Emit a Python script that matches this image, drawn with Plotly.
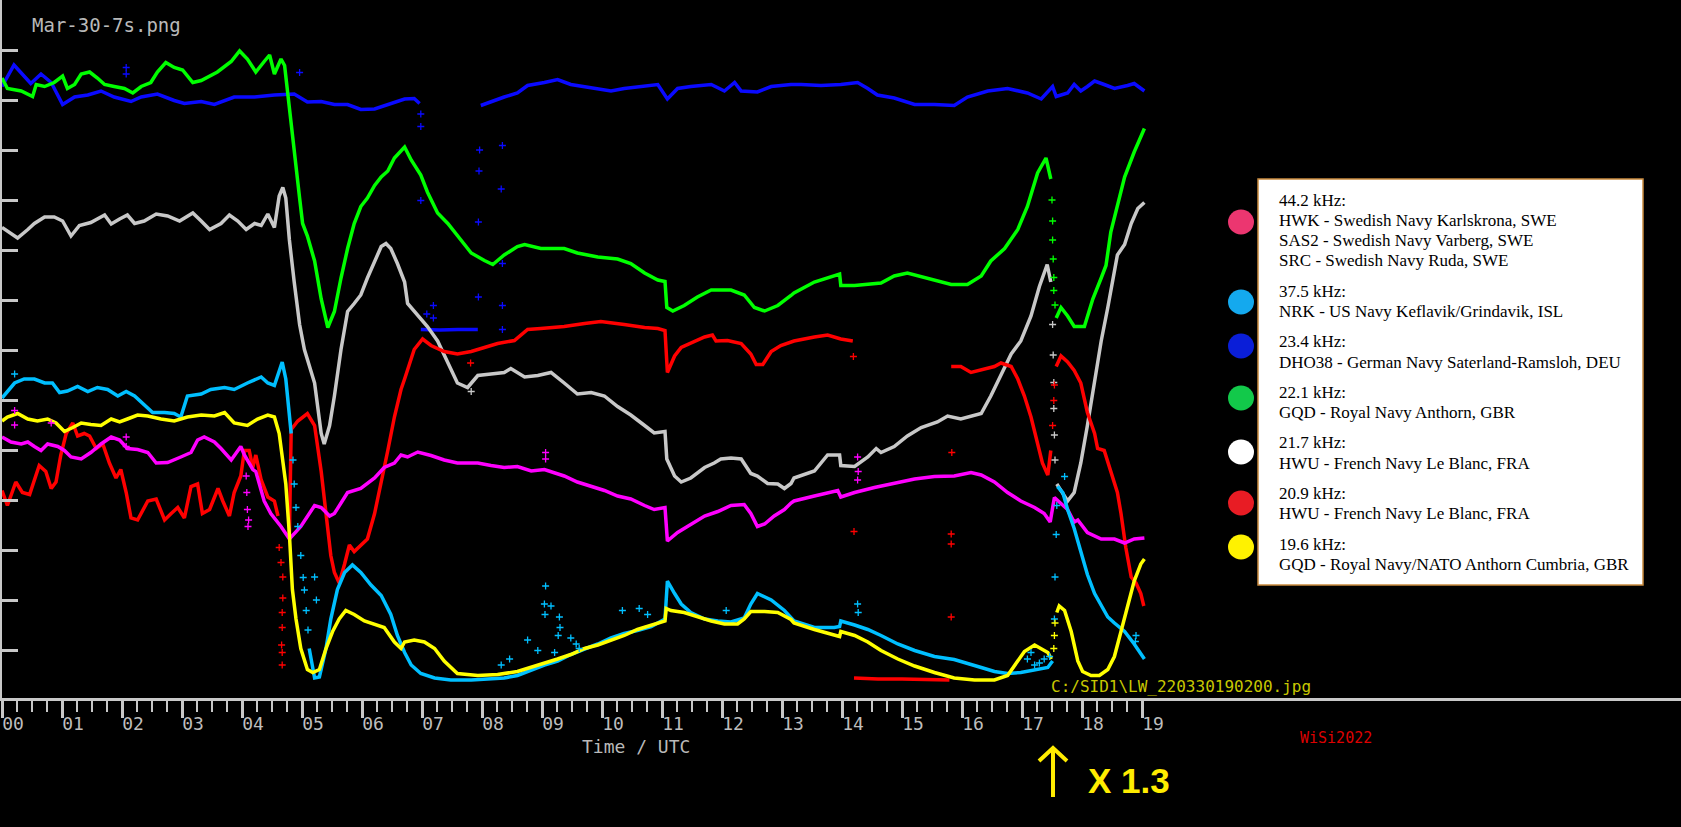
import plotly.graph_objects as go

# hours on the x axis, signal level in tick units (0..12) on the y axis
HOURS = list(range(20))
HOUR_LABELS = [f"{h:02d}" for h in HOURS]
QUARTERS = [h + q / 4 for h in range(19) for q in (1, 2, 3)]
LEVEL_TICKS = list(range(13))

# 23.4 kHz DHO38
BLUE = [(0.00, 11.27), (0.20, 11.70), (0.48, 11.33), (0.65, 11.52), (0.82, 11.35), (1.01, 10.91),
        (1.21, 11.06), (1.43, 11.10), (1.65, 11.18), (1.87, 11.06), (2.15, 10.97), (2.32, 11.06),
        (2.59, 11.12), (2.87, 10.99), (3.04, 10.93), (3.32, 10.97), (3.54, 10.91), (3.87, 11.06),
        (4.21, 11.06), (4.54, 11.10), (4.87, 11.12), (5.09, 10.96), (5.32, 10.97), (5.54, 10.91),
        (5.76, 10.91), (5.98, 10.81), (6.21, 10.82), (6.43, 10.91), (6.65, 10.99), (6.71, 11.02),
        (6.87, 11.03), (6.96, 10.93), None,
        (6.98, 6.41), (7.30, 6.40), (7.60, 6.41), (7.93, 6.41), None,
        (7.98, 10.89), (8.15, 10.97), (8.37, 11.06), (8.59, 11.14), (8.76, 11.29), (9.04, 11.35),
        (9.26, 11.41), (9.48, 11.31), (9.82, 11.24), (10.15, 11.18), (10.37, 11.23), (10.71, 11.27),
        (10.93, 11.31), (11.09, 11.02), (11.26, 11.23), (11.48, 11.27), (11.82, 11.31), (12.04, 11.18),
        (12.21, 11.35), (12.32, 11.18), (12.59, 11.16), (12.82, 11.27), (13.15, 11.31), (13.32, 11.31),
        (13.65, 11.29), (13.98, 11.31), (14.26, 11.35), (14.43, 11.23), (14.59, 11.10), (14.87, 11.04),
        (15.21, 10.91), (15.54, 10.91), (15.87, 10.89), (16.09, 11.06), (16.43, 11.18), (16.76, 11.23),
        (17.09, 11.14), (17.32, 11.02), (17.43, 11.18), (17.51, 11.27), (17.57, 11.07), (17.76, 11.14),
        (17.87, 11.31), (17.98, 11.18), (18.09, 11.27), (18.21, 11.38), (18.37, 11.31), (18.54, 11.23),
        (18.76, 11.29), (18.87, 11.33), (19.04, 11.18)]
BLUE_DOTS = [(2.07, 11.65), (2.07, 11.52), (6.98, 10.72), (6.98, 10.47), (6.98, 8.99), (7.08, 6.72),
             (7.19, 6.89), (7.19, 6.64), (7.94, 7.06), (7.94, 8.56), (7.95, 9.58), (7.96, 10.00),
             (8.34, 10.09), (8.32, 9.22), (8.34, 7.73), (8.34, 6.89), (8.34, 6.41), (4.96, 11.55)]

# 22.1 kHz GQD
GREEN = [(0.00, 11.44), (0.09, 11.23), (0.32, 11.18), (0.51, 11.07), (0.57, 11.31), (0.71, 11.27),
         (0.87, 11.35), (1.01, 11.48), (1.09, 11.23), (1.21, 11.31), (1.32, 11.52), (1.46, 11.56),
         (1.59, 11.44), (1.71, 11.31), (1.87, 11.27), (2.04, 11.23), (2.18, 11.14), (2.32, 11.27),
         (2.48, 11.35), (2.59, 11.56), (2.73, 11.75), (2.87, 11.65), (3.01, 11.60), (3.18, 11.35),
         (3.32, 11.39), (3.59, 11.56), (3.82, 11.77), (3.96, 11.98), (4.09, 11.82), (4.23, 11.56),
         (4.37, 11.77), (4.46, 11.90), (4.54, 11.52), (4.65, 11.82), (4.71, 11.69), (4.76, 11.14),
         (4.82, 10.47), (4.87, 9.88), (4.96, 9.04), (5.01, 8.53), (5.09, 8.28), (5.21, 7.78),
         (5.32, 7.02), (5.43, 6.45), (5.54, 6.77), (5.65, 7.44), (5.76, 8.03), (5.87, 8.53),
         (5.98, 8.87), (6.09, 9.04), (6.21, 9.29), (6.32, 9.46), (6.43, 9.58), (6.54, 9.84),
         (6.71, 10.06), (6.82, 9.80), (6.98, 9.50), (7.09, 9.16), (7.26, 8.74), (7.43, 8.53),
         (7.59, 8.28), (7.82, 7.94), (8.04, 7.79), (8.18, 7.71), (8.37, 7.90), (8.59, 8.07),
         (8.71, 8.11), (8.98, 8.03), (9.37, 8.03), (9.59, 7.94), (9.93, 7.86), (10.26, 7.82),
         (10.48, 7.73), (10.71, 7.54), (10.93, 7.40), (11.05, 7.37), (11.08, 6.85), (11.18, 6.78),
         (11.37, 6.89), (11.59, 7.06), (11.82, 7.20), (12.15, 7.20), (12.37, 7.10), (12.54, 6.85),
         (12.71, 6.78), (12.93, 6.89), (13.15, 7.09), (13.20, 7.14), (13.54, 7.36), (13.87, 7.48),
         (13.96, 7.52), (13.98, 7.29), (14.21, 7.29), (14.65, 7.34), (14.87, 7.48), (15.09, 7.54),
         (15.43, 7.44), (15.82, 7.31), (16.09, 7.31), (16.32, 7.48), (16.48, 7.78), (16.71, 8.03),
         (16.93, 8.41), (17.09, 8.87), (17.26, 9.54), (17.40, 9.84), (17.48, 9.42), None,
         (17.57, 6.64), (17.65, 6.85), (17.76, 6.68), (17.87, 6.47), (18.04, 6.47), (18.18, 7.02),
         (18.32, 7.44), (18.40, 7.69), (18.48, 8.36), (18.59, 8.87), (18.71, 9.46), (18.87, 9.96),
         (19.04, 10.43)]
GREEN_DOTS = [(17.50, 9.00), (17.51, 8.58), (17.51, 8.20), (17.52, 7.82), (17.53, 7.45), (17.53, 7.19),
              (17.55, 6.90)]

# 21.7 kHz HWU
GREY = [(0.00, 8.45), (0.26, 8.24), (0.43, 8.41), (0.54, 8.53), (0.71, 8.66), (0.87, 8.66),
        (1.01, 8.58), (1.15, 8.28), (1.29, 8.49), (1.48, 8.55), (1.71, 8.70), (1.82, 8.52),
        (1.96, 8.62), (2.09, 8.70), (2.21, 8.53), (2.37, 8.58), (2.57, 8.72), (2.76, 8.68),
        (2.96, 8.58), (3.18, 8.74), (3.32, 8.58), (3.46, 8.41), (3.65, 8.53), (3.79, 8.70),
        (3.93, 8.58), (4.07, 8.41), (4.21, 8.53), (4.32, 8.49), (4.43, 8.72), (4.54, 8.45),
        (4.62, 9.08), (4.68, 9.25), (4.73, 9.04), (4.79, 8.20), (4.87, 7.36), (4.96, 6.51),
        (5.04, 6.01), (5.21, 5.34), (5.32, 4.33), (5.37, 4.12), (5.46, 4.49), (5.54, 5.08),
        (5.65, 6.01), (5.76, 6.77), (5.87, 6.93), (5.98, 7.10), (6.09, 7.44), (6.21, 7.78),
        (6.32, 8.07), (6.40, 8.13), (6.48, 8.03), (6.59, 7.73), (6.71, 7.36), (6.76, 6.93),
        (6.93, 6.68), (7.09, 6.47), (7.26, 6.18), (7.43, 5.76), (7.59, 5.34), (7.76, 5.25),
        (7.93, 5.49), (8.15, 5.52), (8.37, 5.55), (8.48, 5.63), (8.71, 5.46), (8.93, 5.49),
        (9.15, 5.55), (9.37, 5.34), (9.59, 5.12), (9.82, 5.15), (10.04, 5.08), (10.26, 4.87),
        (10.48, 4.70), (10.71, 4.49), (10.87, 4.34), (11.05, 4.37), (11.08, 3.82), (11.21, 3.48),
        (11.32, 3.36), (11.48, 3.44), (11.71, 3.65), (11.87, 3.74), (11.98, 3.82), (12.15, 3.84),
        (12.32, 3.82), (12.48, 3.53), (12.59, 3.48), (12.76, 3.33), (12.93, 3.32), (13.04, 3.23),
        (13.15, 3.33), (13.20, 3.44), (13.54, 3.58), (13.76, 3.90), (13.96, 3.90), (13.98, 3.69),
        (14.21, 3.67), (14.43, 3.86), (14.57, 4.03), (14.65, 3.95), (14.87, 4.07), (15.09, 4.28),
        (15.32, 4.45), (15.59, 4.56), (15.76, 4.68), (15.98, 4.62), (16.32, 4.73), (16.48, 5.08),
        (16.65, 5.50), (16.82, 5.92), (16.98, 6.18), (17.15, 6.68), (17.29, 7.27), (17.42, 7.71),
        (17.48, 7.36), None,
        (17.58, 3.32), (17.76, 2.98), (17.87, 3.15), (17.98, 3.74), (18.09, 4.49), (18.21, 5.42),
        (18.32, 6.18), (18.43, 6.85), (18.54, 7.61), (18.59, 7.90), (18.71, 8.11), (18.82, 8.53),
        (18.93, 8.83), (19.04, 8.95)]
GREY_DOTS = [(7.82, 5.17), (17.51, 6.51), (17.52, 5.90), (17.53, 5.35), (17.53, 4.83), (17.54, 4.30),
             (17.55, 3.80)]

# 20.9 kHz HWU
RED = [(0.00, 3.19), (0.09, 2.89), (0.23, 3.36), (0.34, 3.15), (0.46, 3.11), (0.54, 3.40),
       (0.62, 3.69), (0.73, 3.57), (0.82, 3.23), (0.90, 3.36), (0.98, 3.90), (1.07, 4.33),
       (1.18, 4.54), (1.26, 4.28), (1.37, 4.33), (1.46, 4.28), (1.57, 4.03), (1.68, 4.12),
       (1.79, 3.74), (1.90, 3.44), (1.98, 3.61), (2.07, 3.15), (2.15, 2.64), (2.26, 2.60),
       (2.43, 2.98), (2.57, 3.02), (2.71, 2.60), (2.82, 2.73), (2.93, 2.85), (3.04, 2.64),
       (3.15, 3.27), (3.26, 3.32), (3.34, 2.73), (3.46, 2.81), (3.60, 3.23), (3.68, 2.98),
       (3.79, 2.68), (3.87, 3.15), (3.98, 3.48), (4.04, 3.99), (4.12, 3.99), (4.18, 3.65),
       (4.23, 3.90), (4.32, 3.40), (4.43, 3.06), (4.54, 2.98), (4.60, 2.68), None,
       (4.79, 2.30), (4.80, 3.40), (4.82, 4.41), (4.93, 4.58), (5.09, 4.73), (5.21, 4.49),
       (5.32, 3.57), (5.40, 2.73), (5.48, 1.89), (5.54, 1.55), (5.62, 1.34), (5.71, 1.72),
       (5.79, 2.10), (5.87, 1.97), (5.98, 2.10), (6.09, 2.22), (6.21, 2.73), (6.32, 3.32),
       (6.43, 3.99), (6.54, 4.66), (6.65, 5.21), (6.71, 5.42), (6.87, 6.01), (7.01, 6.22),
       (7.15, 6.09), (7.37, 5.97), (7.59, 5.92), (7.82, 5.97), (8.04, 6.05), (8.26, 6.13),
       (8.54, 6.19), (8.76, 6.41), (8.98, 6.43), (9.37, 6.47), (9.71, 6.53), (9.98, 6.57),
       (10.37, 6.51), (10.71, 6.45), (10.93, 6.43), (11.05, 6.39), (11.09, 5.55), (11.21, 5.88),
       (11.32, 6.05), (11.48, 6.13), (11.71, 6.26), (11.84, 6.30), (11.90, 6.18), (12.09, 6.19),
       (12.32, 6.13), (12.48, 5.92), (12.57, 5.71), (12.68, 5.71), (12.82, 5.97), (12.98, 6.09),
       (13.20, 6.18), (13.54, 6.26), (13.76, 6.30), (13.98, 6.22), (14.18, 6.18), None,
       (14.20, -0.56), (14.60, -0.58), (15.00, -0.58), (15.40, -0.59), (15.79, -0.60), None,
       (15.82, 5.67), (15.98, 5.67), (16.15, 5.55), (16.32, 5.61), (16.54, 5.67), (16.65, 5.74),
       (16.82, 5.67), (16.93, 5.42), (17.04, 5.08), (17.15, 4.66), (17.26, 4.16), (17.34, 3.74),
       (17.43, 3.50), (17.48, 3.99), None,
       (17.57, 5.67), (17.65, 5.88), (17.76, 5.76), (17.87, 5.59), (17.98, 5.34), (18.09, 4.75),
       (18.21, 4.33), (18.26, 4.03), (18.37, 3.99), (18.48, 3.57), (18.59, 3.15), (18.65, 2.73),
       (18.73, 2.05), (18.82, 1.46), (18.90, 1.34), (18.98, 1.13), (19.03, 0.88)]
RED_DOTS = [(4.62, 2.05), (4.65, 1.75), (4.68, 1.46), (4.68, 1.04), (4.67, 0.75), (4.67, 0.45),
            (4.66, 0.10), (4.67, -0.05), (4.67, -0.30), (7.81, 5.74), (14.19, 5.87), (14.20, 2.37),
            (15.83, 3.95), (15.82, 2.32), (15.82, 2.12), (15.82, 0.66), (17.51, 4.49), (17.53, 4.99),
            (17.54, 5.30)]

# 44.2 kHz HWK / SAS2 / SRC
MAGENTA = [(0.00, 4.26), (0.15, 4.16), (0.32, 4.12), (0.43, 4.16), (0.54, 4.07), (0.65, 3.99),
           (0.76, 4.12), (0.93, 4.07), (1.04, 3.99), (1.15, 3.86), (1.32, 3.82), (1.48, 3.95),
           (1.65, 4.12), (1.82, 4.26), (1.96, 4.20), (2.09, 4.03), (2.26, 4.01), (2.43, 3.95),
           (2.57, 3.74), (2.76, 3.75), (2.98, 3.86), (3.15, 3.95), (3.26, 4.20), (3.37, 4.26),
           (3.54, 4.16), (3.65, 4.03), (3.82, 3.80), (3.98, 4.07), (4.04, 3.90), (4.18, 3.61),
           (4.23, 3.57), (4.37, 2.98), (4.48, 2.73), (4.65, 2.47), (4.79, 2.22), (4.98, 2.47),
           (5.21, 2.89), (5.32, 2.85), (5.46, 2.68), (5.54, 2.73), (5.76, 3.15), (5.98, 3.23),
           (6.21, 3.44), (6.37, 3.65), (6.54, 3.74), (6.65, 3.90), (6.76, 3.86), (6.93, 3.96),
           (7.15, 3.89), (7.37, 3.80), (7.59, 3.74), (7.93, 3.74), (8.15, 3.69), (8.37, 3.65),
           (8.59, 3.67), (8.82, 3.58), (9.04, 3.61), (9.15, 3.57), (9.37, 3.48), (9.59, 3.36),
           (9.82, 3.27), (10.04, 3.19), (10.26, 3.08), (10.48, 3.02), (10.71, 2.89), (10.87, 2.81),
           (11.05, 2.85), (11.09, 2.18), (11.26, 2.35), (11.48, 2.52), (11.71, 2.68), (11.93, 2.77),
           (12.15, 2.89), (12.37, 2.91), (12.48, 2.73), (12.59, 2.47), (12.71, 2.52), (12.87, 2.68),
           (13.04, 2.81), (13.15, 2.94), (13.20, 2.98), (13.54, 3.08), (13.93, 3.19), (13.98, 3.06),
           (14.21, 3.15), (14.54, 3.25), (14.87, 3.33), (15.21, 3.42), (15.54, 3.47), (15.87, 3.48),
           (16.15, 3.55), (16.32, 3.50), (16.54, 3.36), (16.76, 3.15), (16.98, 2.98), (17.21, 2.85),
           (17.37, 2.73), (17.47, 2.56), (17.54, 3.05), (17.65, 2.94), (17.76, 2.81), (17.87, 2.56),
           (17.93, 2.60), (18.09, 2.35), (18.32, 2.22), (18.54, 2.22), (18.71, 2.14), (18.87, 2.22),
           (19.04, 2.24)]
MAGENTA_DOTS = [(0.21, 4.79), (0.21, 4.50), (0.82, 4.54), (2.07, 4.26), (2.07, 4.07), (4.07, 3.48),
                (4.08, 3.15), (4.09, 2.81), (4.10, 2.47), (4.11, 2.60), (9.06, 3.95), (9.06, 3.82),
                (14.26, 3.86), (14.27, 3.57), (14.26, 3.40)]

# 37.5 kHz NRK
CYAN = [(0.00, 5.04), (0.09, 5.17), (0.21, 5.34), (0.37, 5.42), (0.54, 5.42), (0.71, 5.34),
        (0.84, 5.34), (0.96, 5.15), (1.09, 5.18), (1.26, 5.27), (1.43, 5.17), (1.59, 5.25),
        (1.76, 5.21), (1.93, 5.08), (2.07, 5.17), (2.21, 5.08), (2.37, 4.91), (2.51, 4.75),
        (2.71, 4.75), (2.87, 4.73), (2.98, 4.66), (3.09, 5.08), (3.32, 5.12), (3.48, 5.21),
        (3.71, 5.25), (3.87, 5.21), (4.09, 5.34), (4.32, 5.46), (4.43, 5.34), (4.54, 5.29),
        (4.67, 5.76), (4.73, 5.42), (4.82, 4.33), None,
        (5.12, 0.03), (5.21, -0.56), (5.29, -0.54), (5.40, 0.03), (5.48, 0.62), (5.59, 1.21),
        (5.71, 1.55), (5.84, 1.70), (5.98, 1.55), (6.15, 1.30), (6.32, 1.09), (6.48, 0.71),
        (6.59, 0.29), (6.71, -0.05), (6.82, -0.30), (6.98, -0.47), (7.21, -0.56), (7.48, -0.60),
        (7.82, -0.60), (8.15, -0.57), (8.37, -0.56), (8.59, -0.51), (8.82, -0.40), (9.04, -0.30),
        (9.26, -0.22), (9.48, -0.09), (9.71, 0.02), (9.93, 0.12), (10.15, 0.24), (10.37, 0.33),
        (10.59, 0.39), (10.82, 0.47), (11.05, 0.62), (11.09, 1.38), (11.21, 1.13), (11.32, 0.92),
        (11.48, 0.75), (11.71, 0.62), (11.93, 0.58), (12.15, 0.56), (12.37, 0.64), (12.48, 0.92),
        (12.59, 1.13), (12.82, 1.00), (13.04, 0.79), (13.15, 0.66), (13.20, 0.58), (13.54, 0.45),
        (13.87, 0.45), (13.96, 0.47), (13.98, 0.58), (14.21, 0.50), (14.43, 0.41), (14.65, 0.29),
        (14.93, 0.12), (15.21, -0.01), (15.54, -0.13), (15.87, -0.19), (16.09, -0.26), (16.32, -0.35),
        (16.54, -0.43), (16.76, -0.47), (16.98, -0.45), (17.21, -0.40), (17.43, -0.35), (17.51, -0.22),
        None,
        (17.59, 3.27), (17.68, 3.15), (17.76, 2.81), (17.87, 2.43), (17.98, 1.97), (18.09, 1.51),
        (18.21, 1.13), (18.32, 0.88), (18.43, 0.66), (18.54, 0.54), (18.71, 0.37), (18.87, 0.12),
        (19.04, -0.18)]
CYAN_DOTS = [(0.21, 5.52), (4.85, 3.80), (4.87, 3.32), (4.90, 2.85), (4.93, 2.47), (4.98, 1.89),
             (5.02, 1.45), (5.04, 1.20), (5.07, 0.79), (5.10, 0.40), (5.21, 1.46), (5.24, 1.00),
             (8.32, -0.30), (8.46, -0.18), (8.76, 0.20), (8.93, -0.01), (9.04, 0.92), (9.05, 0.71),
             (9.06, 1.28), (9.15, 0.88), (9.21, -0.05), (9.27, 0.29), (9.29, 0.66), (9.30, 0.45),
             (9.48, 0.24), (9.57, 0.12), (9.62, 0.03), (10.34, 0.79), (10.62, 0.83), (10.76, 0.71),
             (12.07, 0.79), (14.26, 0.92), (14.27, 0.75), (17.09, -0.18), (17.15, -0.05),
             (17.21, -0.30), (17.29, -0.26), (17.37, -0.18), (17.46, -0.13), (17.54, 0.62),
             (17.55, 1.46), (17.57, 2.31), (17.58, 2.89), (17.71, 3.47), (18.90, 0.29), (18.89, 0.17)]

# 19.6 kHz GQD
YELLOW = [(0.00, 4.58), (0.09, 4.66), (0.26, 4.73), (0.43, 4.62), (0.59, 4.58), (0.76, 4.62),
          (0.90, 4.54), (1.04, 4.37), (1.18, 4.45), (1.32, 4.54), (1.48, 4.51), (1.65, 4.49),
          (1.82, 4.62), (1.96, 4.56), (2.09, 4.62), (2.26, 4.70), (2.43, 4.68), (2.65, 4.62),
          (2.87, 4.58), (3.09, 4.66), (3.32, 4.70), (3.54, 4.68), (3.71, 4.75), (3.87, 4.54),
          (4.09, 4.49), (4.26, 4.62), (4.43, 4.70), (4.54, 4.66), (4.62, 4.33), (4.68, 3.82),
          (4.73, 3.32), (4.79, 2.31), (4.84, 1.21), (4.90, 0.62), (4.98, 0.03), (5.09, -0.39),
          (5.18, -0.45), (5.29, -0.39), (5.40, 0.03), (5.51, 0.37), (5.62, 0.62), (5.73, 0.79),
          (5.87, 0.71), (6.04, 0.58), (6.21, 0.52), (6.37, 0.45), (6.54, 0.16), (6.65, 0.03),
          (6.71, 0.16), (6.87, 0.20), (7.04, 0.16), (7.21, 0.03), (7.37, -0.22), (7.59, -0.47),
          (7.93, -0.51), (8.26, -0.49), (8.59, -0.43), (8.82, -0.35), (9.04, -0.26), (9.26, -0.18),
          (9.48, -0.09), (9.71, 0.03), (9.93, 0.10), (10.15, 0.20), (10.37, 0.29), (10.59, 0.41),
          (10.82, 0.50), (11.05, 0.58), (11.07, 0.83), (11.15, 0.79), (11.37, 0.75), (11.59, 0.66),
          (11.82, 0.58), (12.04, 0.52), (12.26, 0.52), (12.37, 0.62), (12.48, 0.77), (12.71, 0.77),
          (12.93, 0.75), (13.15, 0.61), (13.20, 0.54), (13.54, 0.41), (13.87, 0.29), (13.96, 0.27),
          (13.98, 0.37), (14.21, 0.29), (14.43, 0.16), (14.65, -0.01), (14.93, -0.18), (15.21, -0.32),
          (15.54, -0.45), (15.87, -0.56), (16.21, -0.60), (16.54, -0.60), (16.76, -0.51), (16.93, -0.22),
          (17.04, -0.03), (17.21, 0.10), (17.32, 0.03), (17.43, -0.05), (17.49, -0.18), None,
          (17.58, 0.75), (17.62, 0.88), (17.71, 0.79), (17.82, 0.37), (17.93, -0.22), (18.01, -0.43),
          (18.15, -0.51), (18.29, -0.51), (18.43, -0.39), (18.54, -0.13), (18.65, 0.37), (18.76, 0.88),
          (18.87, 1.38), (18.98, 1.72), (19.04, 1.82)]
YELLOW_DOTS = [(17.53, 0.03), (17.54, 0.29), (17.55, 0.54)]

SERIES = [
    (BLUE, BLUE_DOTS, "#0a0aff"),
    (GREEN, GREEN_DOTS, "#00ff00"),
    (GREY, GREY_DOTS, "#c8c8c8"),
    (RED, RED_DOTS, "#ff0000"),
    (MAGENTA, MAGENTA_DOTS, "#ff00ff"),
    (CYAN, CYAN_DOTS, "#00bfff"),
    (YELLOW, YELLOW_DOTS, "#ffff00"),
]

LEGEND_FREQ = ["44.2 kHz:", "37.5 kHz:", "23.4 kHz:", "22.1 kHz:", "21.7 kHz:", "20.9 kHz:", "19.6 kHz:"]
LEGEND_STATIONS = [
    ["HWK - Swedish Navy Karlskrona, SWE", "SAS2 - Swedish Navy Varberg, SWE", "SRC - Swedish Navy Ruda, SWE"],
    ["NRK - US Navy Keflavik/Grindavik, ISL"],
    ["DHO38 - German Navy Saterland-Ramsloh, DEU"],
    ["GQD - Royal Navy Anthorn, GBR"],
    ["HWU - French Navy Le Blanc, FRA"],
    ["HWU - French Navy Le Blanc, FRA"],
    ["GQD - Royal Navy/NATO Anthorn Cumbria, GBR"],
]
LEGEND_DOT_COLORS = ["#ec3670", "#14a9ee", "#0a1ed8", "#12c94a", "#ffffff", "#e81c24", "#fff200"]

W, H = 1681, 827
PL, PR, PT, PB = 2, 1681, 0, 698


def px(x):
    return (x - PL) / (PR - PL)


def py(y):
    return (PB - y) / (PB - PT)


def unzip(points):
    xs, ys = [], []
    for p in points:
        if p is None:
            xs.append(None)
            ys.append(None)
        else:
            xs.append(p[0])
            ys.append(p[1])
    return xs, ys


fig = go.Figure()
for line_pts, dot_pts, color in SERIES:
    x, y = unzip(line_pts)
    fig.add_trace(go.Scatter(x=x, y=y, mode="lines", line=dict(color=color, width=3.5),
                             connectgaps=False, hoverinfo="skip"))
for line_pts, dot_pts, color in SERIES:
    x, y = unzip(dot_pts)
    fig.add_trace(go.Scatter(x=x, y=y, mode="markers", hoverinfo="skip",
                             marker=dict(symbol="cross-thin", size=5, line=dict(color=color, width=1.3))))

axis_grey = "#c8c8c8"
fig.update_xaxes(range=[0, (PR - PL) / 60], showgrid=False, zeroline=False,
                 showline=True, linecolor=axis_grey, linewidth=3,
                 ticks="outside", tickmode="array", tickvals=HOURS, ticktext=HOUR_LABELS,
                 ticklen=17, tickwidth=3, tickcolor=axis_grey,
                 tickfont=dict(family="DejaVu Sans Mono", size=18, color="#bdbdbd"),
                 ticklabelshift=11, ticklabelstandoff=-10,
                 minor=dict(tickmode="array", tickvals=QUARTERS, ticks="outside",
                            ticklen=11, tickwidth=2, tickcolor=axis_grey))
fig.update_yaxes(range=[-0.96, 13.0], showgrid=False, zeroline=False,
                 showline=True, linecolor=axis_grey, linewidth=3,
                 ticks="inside", tickmode="array", tickvals=LEVEL_TICKS, showticklabels=False,
                 ticklen=16, tickwidth=3, tickcolor=axis_grey)

annotations = [
    dict(text="Mar-30-7s.png", x=px(30), y=py(25), xanchor="left", yanchor="middle",
         font=dict(family="DejaVu Sans Mono", size=19, color="#b9b9b9")),
    dict(text="Time / UTC", x=px(636), y=py(746), xanchor="center", yanchor="middle",
         font=dict(family="DejaVu Sans Mono", size=18, color="#b9b9b9")),
    dict(text="C:/SID1\\LW_220330190200.jpg", x=px(1049), y=py(686), xanchor="left", yanchor="middle",
         font=dict(family="DejaVu Sans Mono", size=16, color="#c8c800")),
    dict(text="WiSi2022", x=px(1298), y=py(738), xanchor="left", yanchor="middle",
         font=dict(family="DejaVu Sans Mono", size=15, color="#dd0000")),
    dict(text="<b>X 1.3</b>", x=px(1086), y=py(780), xanchor="left", yanchor="middle",
         font=dict(family="Liberation Sans", size=35, color="#ffec00")),
]

group_y = [200, 291, 341.7, 392.3, 442.7, 493.3, 544]
dot_y = [222, 302, 346, 398, 452, 503, 547]
shapes = [
    dict(type="rect", xref="paper", yref="paper", x0=px(1258), x1=px(1643), y0=py(585), y1=py(179),
         fillcolor="white", line=dict(color="#c98a3e", width=1.5), layer="above"),
    dict(type="path", xref="paper", yref="paper",
         path=f"M {px(1053)} {py(797)} L {px(1053)} {py(748)} M {px(1039)} {py(761)} "
              f"L {px(1053)} {py(748)} L {px(1067)} {py(761)}",
         line=dict(color="#ffec00", width=4)),
]
for i, freq in enumerate(LEGEND_FREQ):
    lines = [freq] + LEGEND_STATIONS[i]
    for j, txt in enumerate(lines):
        annotations.append(dict(text=txt, x=px(1277), y=py(group_y[i] + 20.3 * j),
                                xanchor="left", yanchor="middle",
                                font=dict(family="Liberation Serif", size=17, color="black")))
    cx, cy = 1241, dot_y[i]
    shapes.append(dict(type="circle", xref="paper", yref="paper",
                       x0=px(cx - 13), x1=px(cx + 13), y0=py(cy + 12.5), y1=py(cy - 12.5),
                       fillcolor=LEGEND_DOT_COLORS[i], line=dict(width=0), layer="above"))

for a in annotations:
    a.update(xref="paper", yref="paper", showarrow=False)

fig.update_layout(width=W, height=H, margin=dict(l=PL, r=W - PR, t=PT, b=H - PB),
                  paper_bgcolor="black", plot_bgcolor="black", showlegend=False,
                  annotations=annotations, shapes=shapes)

fig.write_html("out.html", config={"displayModeBar": False},
               post_script="document.body.style.margin='0';")
